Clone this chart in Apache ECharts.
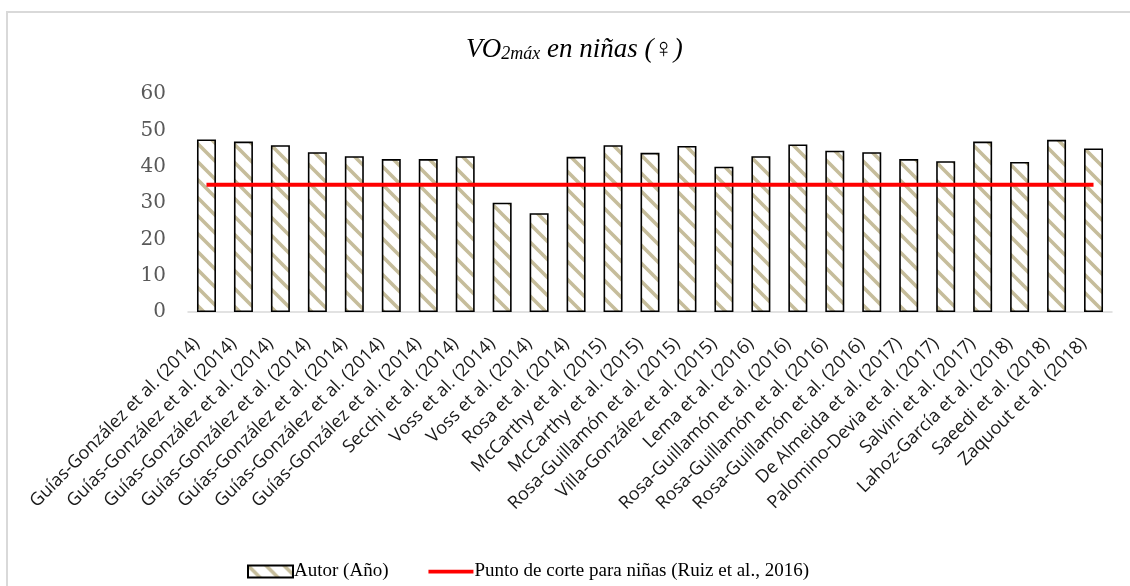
<!DOCTYPE html>
<html>
<head>
<meta charset="utf-8">
<script src="https://cdn.jsdelivr.net/npm/echarts@6/dist/echarts.min.js"></script>
<style>
html,body{margin:0;padding:0;background:#fff;}
#chart{width:1130px;height:586px;}
</style>
</head>
<body>
<div id="chart"></div>
<script>
const categories = [
  'Guías-González et al. (2014)',
  'Guías-González et al. (2014)',
  'Guías-González et al. (2014)',
  'Guías-González et al. (2014)',
  'Guías-González et al. (2014)',
  'Guías-González et al. (2014)',
  'Guías-González et al. (2014)',
  'Secchi et al. (2014)',
  'Voss et al. (2014)',
  'Voss et al. (2014)',
  'Rosa et al. (2014)',
  'McCarthy et al. (2015)',
  'McCarthy et al. (2015)',
  'Rosa-Guillamón et al. (2015)',
  'Villa-González et al. (2015)',
  'Lema et al. (2016)',
  'Rosa-Guillamón et al. (2016)',
  'Rosa-Guillamón et al. (2016)',
  'Rosa-Guillamón et al. (2016)',
  'De Almeida et al. (2017)',
  'Palomino-Devia et al. (2017)',
  'Salvini et al. (2017)',
  'Lahoz-García et al. (2018)',
  'Saeedi et al. (2018)',
  'Zaquout et al. (2018)'
];
const vo2Values = [47.5, 46.9, 45.9, 44.0, 42.9, 42.1, 42.1, 42.9, 30.1, 27.2, 42.7, 45.9, 43.8, 45.7, 40.0, 42.9, 46.1, 44.4, 44.0, 42.1, 41.5, 46.9, 41.3, 47.4, 45.0];
const cutoffValues = [35, 35, 35, 35, 35, 35, 35, 35, 35, 35, 35, 35, 35, 35, 35, 35, 35, 35, 35, 35, 35, 35, 35, 35, 35];
const yTicks = { min: 0, max: 60, interval: 10 };
const barName = 'Autor (Año)';
const lineName = 'Punto de corte para niñas (Ruiz et al., 2016)';

// diagonal stripe pattern
const tile = document.createElement('canvas');
const T = 18;
tile.width = T; tile.height = T;
const c = tile.getContext('2d');
c.fillStyle = '#ffffff';
c.fillRect(0, 0, T, T);
c.strokeStyle = '#c6bd9b';
c.lineWidth = 3.6;
c.beginPath();
for (let k = -1; k <= 1; k++) {
  c.moveTo(k * T - 2, -2);
  c.lineTo(k * T + T + 2, T + 2);
}
c.stroke();

const chart = echarts.init(document.getElementById('chart'), null, { renderer: 'canvas' });
chart.setOption({
  backgroundColor: '#ffffff',
  animation: false,
  title: {
    left: 461,
    top: 26,
    text: '{i|VO}{s|2máx}{i| en niñas (♀)}',
    textStyle: {
      fontWeight: 'normal',
      rich: {
        i: { fontFamily: 'Liberation Serif', fontStyle: 'italic', fontWeight: 'normal', fontSize: 27, color: '#000', verticalAlign: 'bottom', lineHeight: 32 },
        s: { fontFamily: 'Liberation Serif', fontStyle: 'italic', fontWeight: 'normal', fontSize: 18, color: '#000', verticalAlign: 'bottom', lineHeight: 12 }
      }
    }
  },
  graphic: [{
    type: 'rect',
    silent: true,
    shape: { x: 7, y: 12, width: 1200, height: 700 },
    style: { fill: 'none', stroke: '#d9d9d9', lineWidth: 2 }
  }],
  legend: {
    left: 242,
    top: 557,
    itemGap: 40,
    itemWidth: 45,
    itemHeight: 12,
    symbolKeepAspect: true,
    textStyle: { fontFamily: 'Liberation Serif', fontSize: 19, color: '#000', padding: [0, 0, 0, -4] },
    data: [
      { name: barName, icon: 'rect' },
      { name: lineName, icon: 'path://M0,0H48V4H0Z' }
    ]
  },
  grid: { left: 188, right: 18, top: 94, bottom: 274 },
  xAxis: {
    type: 'category',
    data: categories,
    axisLine: { lineStyle: { color: '#d9d9d9', width: 1.5 } },
    axisTick: { show: false },
    axisLabel: {
      interval: 0,
      rotate: 45,
      margin: 19,
      padding: [0, 14, 0, 0],
      fontFamily: 'Open Sans',
      fontSize: 18,
      color: '#1a1a1a'
    }
  },
  yAxis: {
    type: 'value',
    min: yTicks.min,
    max: yTicks.max,
    interval: yTicks.interval,
    splitLine: { show: false },
    axisLine: { show: false },
    axisTick: { show: false },
    axisLabel: { margin: 22, fontFamily: 'DejaVu Serif', fontSize: 20, color: '#595959' }
  },
  series: [
    {
      name: barName,
      type: 'bar',
      data: vo2Values,
      barWidth: 19,
      itemStyle: {
        color: { image: tile, repeat: 'repeat' },
        borderColor: '#000',
        borderWidth: 1.6
      }
    },
    {
      name: lineName,
      type: 'line',
      data: cutoffValues,
      symbol: 'none',
      lineStyle: { color: '#ff0000', width: 4 },
      itemStyle: { color: '#ff0000' }
    }
  ]
});
</script>
</body>
</html>
